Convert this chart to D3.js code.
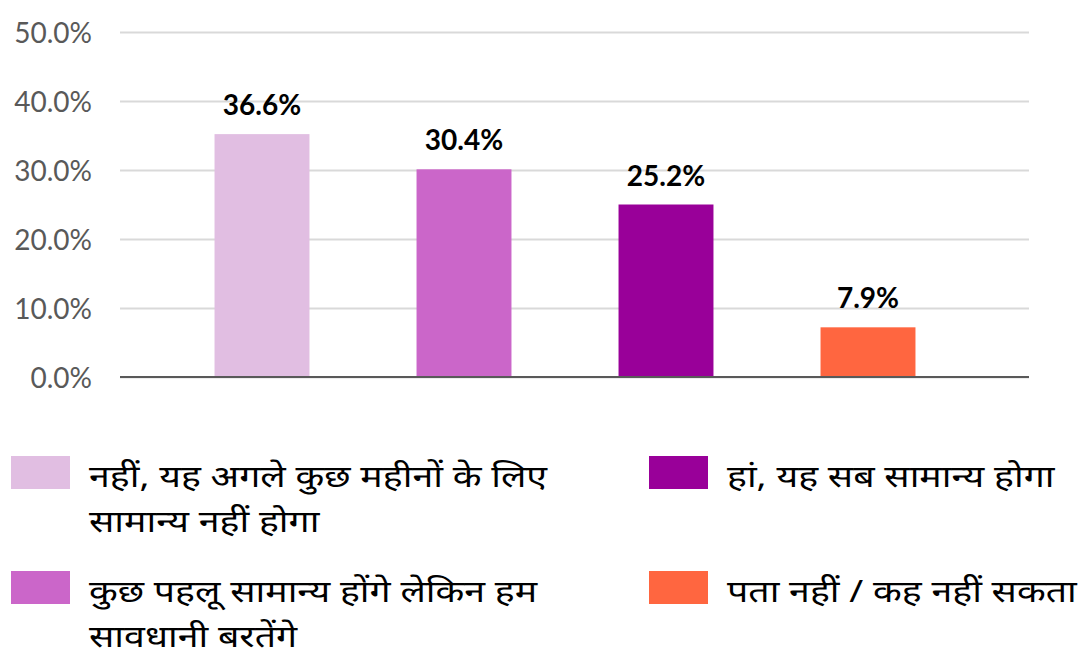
<!DOCTYPE html>
<html>
<head>
<meta charset="utf-8">
<script src="https://cdn.jsdelivr.net/npm/d3@7"></script>
<style>
  body { margin: 0; background: #fff; }
  .tick text { font-family: Lato, "Open Sans", sans-serif; }
</style>
</head>
<body>
<div id="chart"></div>
<script>
// categories (legend text, Hindi)
var categories = [
  "नहीं, यह अगले कुछ महीनों के लिए सामान्य नहीं होगा",
  "कुछ पहलू सामान्य होंगे लेकिन हम सावधानी बरतेंगे",
  "हां, यह सब सामान्य होगा",
  "पता नहीं / कह नहीं सकता"
];
// legend lines as wrapped in the picture
var legendLines = [
  ["नहीं, यह अगले कुछ महीनों के लिए", "सामान्य नहीं होगा"],
  ["कुछ पहलू सामान्य होंगे लेकिन हम", "सावधानी बरतेंगे"],
  ["हां, यह सब सामान्य होगा"],
  ["पता नहीं / कह नहीं सकता"]
];
// bar heights as drawn (%), and the printed labels
var barValues = [35.2, 30.1, 25.0, 7.2];
var barLabels = ["36.6%", "30.4%", "25.2%", "7.9%"];
var colors = ["#E1BEE2", "#CB66C9", "#990099", "#FF6640"];
var yTicks = [0, 10, 20, 30, 40, 50];

var W = 1078, H = 651;

var svg = d3.select("#chart").append("svg")
  .attr("width", W)
  .attr("height", H);

var x = d3.scaleBand()
  .domain(categories)
  .range([161, 969])
  .paddingInner(0.53)
  .paddingOuter(0.265);

var y = d3.scaleLinear().domain([0, 50]).range([377, 32]);

// grid + y labels
var yAxis = d3.axisLeft(y)
  .tickValues(yTicks)
  .tickSize(-(1029 - 120))
  .tickPadding(28)
  .tickFormat(function(d){ return d.toFixed(1) + "%"; });

var gy = svg.append("g")
  .attr("transform", "translate(120,0)")
  .call(yAxis);
gy.select(".domain").remove();
gy.selectAll(".tick line")
  .attr("stroke", "#d9d9d9")
  .attr("stroke-width", 2);
gy.selectAll(".tick text")
  .attr("fill", "#595959")
  .attr("font-size", 28)
  .attr("dy", "0.36em");

svg.selectAll("rect.bar")
  .data(barValues)
  .enter()
  .append("rect")
  .attr("class", "bar")
  .attr("x", function(d, i){ return x(categories[i]); })
  .attr("width", x.bandwidth())
  .attr("y", function(d){ return y(d); })
  .attr("height", function(d){ return y(0) - y(d); })
  .attr("fill", function(d, i){ return colors[i]; });

// baseline
svg.append("line")
  .attr("x1", 120).attr("x2", 1029)
  .attr("y1", y(0)).attr("y2", y(0))
  .attr("stroke", "#595959")
  .attr("stroke-width", 2);

svg.selectAll("text.lbl")
  .data(barValues)
  .enter()
  .append("text")
  .attr("class", "lbl")
  .attr("x", function(d, i){ return x(categories[i]) + x.bandwidth() / 2; })
  .attr("y", function(d){ return y(d) - 19; })
  .attr("text-anchor", "middle")
  .attr("font-family", "Lato, 'Open Sans', sans-serif")
  .attr("font-weight", "bold")
  .attr("font-size", 28)
  .attr("fill", "#000")
  .text(function(d, i){ return barLabels[i]; });

// legend: two columns, two rows
var legendPos = [[11, 456], [11, 571], [649, 456], [649, 571]];

var lg = svg.selectAll("g.leg")
  .data(categories)
  .enter()
  .append("g")
  .attr("class", "leg")
  .attr("transform", function(d, i){ return "translate(" + legendPos[i][0] + "," + legendPos[i][1] + ")"; });

lg.append("rect")
  .attr("width", 59)
  .attr("height", 33)
  .attr("fill", function(d, i){ return colors[i]; });

// the original font is wider, so stretch the text a bit
var sx = 1.21;
lg.each(function(d, i){
  var t = d3.select(this).append("text")
    .attr("transform", "translate(78,31) scale(" + sx + ",1)")
    .attr("font-family", "'Noto Sans', 'Noto Sans Devanagari', Lohit, sans-serif")
    .attr("font-size", 31)
    .attr("fill", "#000");
  legendLines[i].forEach(function(line, k){
    t.append("tspan")
      .attr("x", 0)
      .attr("dy", k == 0 ? 0 : 45)
      .text(line);
  });
});
</script>
</body>
</html>
